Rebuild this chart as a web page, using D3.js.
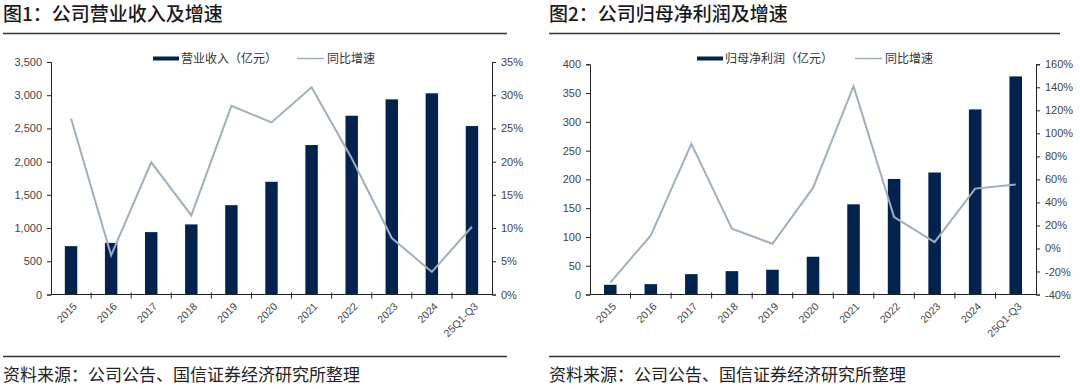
<!DOCTYPE html>
<html>
<head>
<meta charset="utf-8">
<script src="https://cdn.jsdelivr.net/npm/d3@7"></script>
<style>
  html, body { margin: 0; padding: 0; background: #fff; }
  svg { display: block; }
</style>
</head>
<body>
<svg id="chart" width="1080" height="389"></svg>
<script>
// 横轴类别
const categories = ['2015', '2016', '2017', '2018', '2019', '2020', '2021', '2022', '2023', '2024', '25Q1-Q3']
// 图1 营业收入（亿元）及同比增速（%）
const revenue = [728, 777, 939, 1055, 1345, 1697, 2250, 2691, 2938, 3029, 2536]
const revenueGrowth = [26.5, 5.9, 19.9, 11.9, 28.4, 25.9, 31.2, 20.5, 8.5, 3.4, 10.2]
// 图2 归母净利润（亿元）及同比增速（%）
const profit = [16.9, 18, 35.4, 40.6, 43, 65.6, 156.7, 200.8, 212, 321.6, 379]
const profitGrowth = [-29.6, 11.4, 90.9, 17.2, 4.1, 52.6, 141, 27.3, 5.5, 52, 55.5]
// 刻度
const revenueTicks = [0, 500, 1000, 1500, 2000, 2500, 3000, 3500]
const revenuePctTicks = [0, 5, 10, 15, 20, 25, 30, 35]
const profitTicks = [0, 50, 100, 150, 200, 250, 300, 350, 400]
const profitPctTicks = [-40, -20, 0, 20, 40, 60, 80, 100, 120, 140, 160]

const BAR = '#03234f'
const LINE = '#a0afc0'
const NUM_FONT = '"Liberation Sans", Arial, "Noto Sans CJK SC", sans-serif'
const CJK_FONT = '"Noto Sans CJK SC", "Liberation Sans", sans-serif'
const source = '资料来源：公司公告、国信证券经济研究所整理'

const svg = d3.select('#chart')

function drawChart(cfg) {
  const g = svg.append('g')

  // 标题
  g.append('text')
    .attr('x', cfg.left)
    .attr('y', 21)
    .style('font-family', CJK_FONT)
    .style('font-size', '19px')
    .style('font-weight', '500')
    .attr('fill', '#1a1a1a')
    .text(cfg.title)

  g.append('line')
    .attr('x1', cfg.left).attr('x2', cfg.right)
    .attr('y1', 33.5).attr('y2', 33.5)
    .attr('stroke', '#333').attr('stroke-width', 1.5)

  g.append('line')
    .attr('x1', cfg.left).attr('x2', cfg.right)
    .attr('y1', 356.5).attr('y2', 356.5)
    .attr('stroke', '#333').attr('stroke-width', 1.5)

  g.append('text')
    .attr('x', cfg.left)
    .attr('y', 381)
    .style('font-family', CJK_FONT)
    .style('font-size', '17px')
    .attr('fill', '#222')
    .text(source)

  // 比例尺
  const x = d3.scaleBand()
    .domain(categories)
    .range([cfg.x0, cfg.x1])
    .paddingInner(0.69)
    .paddingOuter(0.345)

  const y = d3.scaleLinear()
    .domain(d3.extent(cfg.ticks))
    .range([cfg.y0, cfg.y1])

  const y2 = d3.scaleLinear()
    .domain(d3.extent(cfg.pctTicks))
    .range([cfg.y0, cfg.y1])

  // 柱子
  g.selectAll('rect.bar').data(cfg.bars).enter()
    .append('rect')
    .classed('bar', true)
    .attr('x', (d, i) => x(categories[i]))
    .attr('width', x.bandwidth())
    .attr('y', d => y(d))
    .attr('height', d => y(0) - y(d))
    .attr('fill', BAR)

  // 折线
  const line = d3.line()
    .x((d, i) => x(categories[i]) + x.bandwidth() / 2)
    .y(d => y2(d))

  g.append('path')
    .datum(cfg.growth)
    .attr('d', line)
    .attr('fill', 'none')
    .attr('stroke', LINE)
    .attr('stroke-width', 2)

  // 左轴
  const yAxis = g.append('g')
    .attr('transform', `translate(${cfg.x0},0)`)
    .call(d3.axisLeft(y).tickValues(cfg.ticks).tickSize(4).tickPadding(5).tickFormat(d3.format(',')))
  yAxis.select('.domain').attr('stroke', '#222')

  // 右轴
  const y2Axis = g.append('g')
    .attr('transform', `translate(${cfg.x1},0)`)
    .call(d3.axisRight(y2).tickValues(cfg.pctTicks).tickSize(4).tickPadding(5).tickFormat(d => d + '%'))
  y2Axis.select('.domain').attr('stroke', '#222')

  // 横轴（刻度在类别之间）
  const xAxis = g.append('g')
    .attr('transform', `translate(0,${cfg.y0})`)
  xAxis.append('line')
    .attr('x1', cfg.x0).attr('x2', cfg.x1)
    .attr('stroke', '#222')
  const step = x.step()
  xAxis.selectAll('line.tick').data(categories.slice(1)).enter()
    .append('line')
    .classed('tick', true)
    .attr('x1', d => x(d) - (step - x.bandwidth()) / 2)
    .attr('x2', d => x(d) - (step - x.bandwidth()) / 2)
    .attr('y1', -2).attr('y2', 4)
    .attr('stroke', '#222')
  xAxis.selectAll('text').data(categories).enter()
    .append('text')
    .attr('transform', d => `translate(${x(d) + x.bandwidth() / 2 + 4},${10}) rotate(-45)`)
    .attr('text-anchor', 'end')
    .attr('dy', '0.35em')
    .style('font-family', NUM_FONT)
    .style('font-size', '10.5px')
    .attr('fill', '#444')
    .text(d => d)

  g.selectAll('.tick text')
    .style('font-family', NUM_FONT)
    .style('font-size', '11px')
    .attr('fill', '#444')
  g.selectAll('.tick line').attr('stroke', '#222')

  // 图例
  const lg = g.append('g')
    .style('font-family', CJK_FONT)
    .style('font-size', '12px')
  lg.append('rect')
    .attr('x', cfg.legendX).attr('y', 56.5)
    .attr('width', 26).attr('height', 4)
    .attr('fill', BAR)
  lg.append('text')
    .attr('x', cfg.legendX + 28).attr('y', 58.5)
    .attr('dy', '0.35em')
    .attr('fill', '#333')
    .text(cfg.barName)
  lg.append('line')
    .attr('x1', cfg.legendX2).attr('x2', cfg.legendX2 + 27)
    .attr('y1', 58.5).attr('y2', 58.5)
    .attr('stroke', LINE).attr('stroke-width', 1.5)
  lg.append('text')
    .attr('x', cfg.legendX2 + 30).attr('y', 58.5)
    .attr('dy', '0.35em')
    .attr('fill', '#333')
    .text('同比增速')
}

drawChart({
  title: '图1：公司营业收入及增速',
  left: 3, right: 507,
  x0: 51, x1: 492, y0: 294.5, y1: 62,
  bars: revenue, growth: revenueGrowth,
  ticks: revenueTicks, pctTicks: revenuePctTicks,
  barName: '营业收入（亿元）',
  legendX: 153, legendX2: 297
})

drawChart({
  title: '图2：公司归母净利润及增速',
  left: 549, right: 1060,
  x0: 590, x1: 1036, y0: 294.5, y1: 64.3,
  bars: profit, growth: profitGrowth,
  ticks: profitTicks, pctTicks: profitPctTicks,
  barName: '归母净利润（亿元）',
  legendX: 697, legendX2: 855
})
</script>
</body>
</html>
